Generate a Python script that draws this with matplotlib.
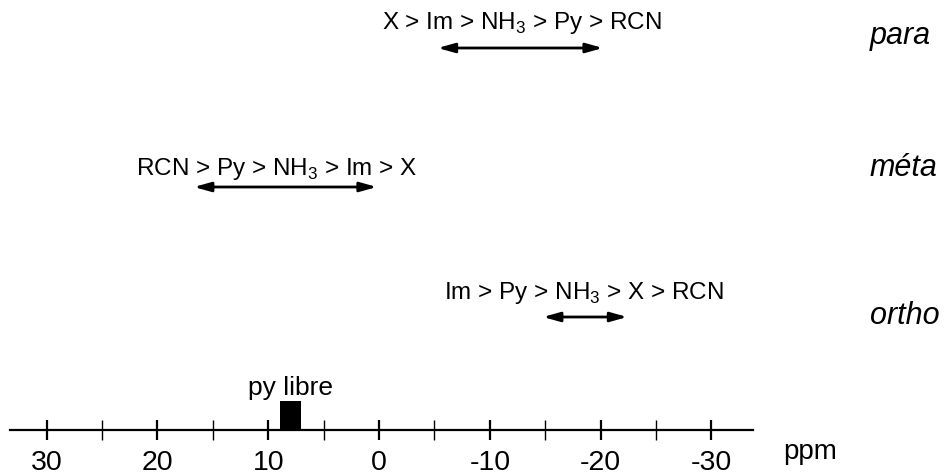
import matplotlib
matplotlib.use('Agg')
import matplotlib.pyplot as plt

plt.rcParams['font.family'] = ['Liberation Sans', 'DejaVu Sans']
plt.rcParams['mathtext.fontset'] = 'custom'
plt.rcParams['mathtext.rm'] = 'Liberation Sans'

# shift range (ppm) of each ring position, with the ligand ordering
positions = ['para', 'méta', 'ortho']
orderings = ['X > Im > NH$_3$ > Py > RCN',
             'RCN > Py > NH$_3$ > Im > X',
             'Im > Py > NH$_3$ > X > RCN']
range_start = [-5.3, 16.7, -14.8]
range_end = [-20.2, 0.2, -22.4]

# free pyridine signal
free_py_label = 'py libre'
free_py_low = 7.0
free_py_high = 8.9

major_ticks = [30, 20, 10, 0, -10, -20, -30]
minor_ticks = [25, 15, 5, -5, -15, -25]

# vertical layout, in pixels from the top of the figure
text_y = [23, 169, 293]
arrow_y = [48, 187, 317]
label_y = [36, 168, 316]
text_x = [-12.9, 9.25, -18.45]
axis_y = 430

fig = plt.figure(figsize=(9.47, 4.74), dpi=100)
ax = fig.add_axes([10 / 947, 0, 743 / 947, 1])
ax.set_xlim(33.3, -33.75)
ax.set_ylim(474, 0)

for side in ['left', 'right', 'top']:
    ax.spines[side].set_visible(False)
ax.spines['bottom'].set_position(('data', axis_y))
ax.spines['bottom'].set_linewidth(1.6)
ax.set_yticks([])
ax.patch.set_visible(False)

ax.set_xticks(major_ticks)
ax.set_xticklabels([str(t) for t in major_ticks])
ax.set_xticks(minor_ticks, minor=True)
ax.tick_params(axis='x', which='both', direction='inout', length=14.4,
               labelsize=20.5, pad=7)
ax.tick_params(axis='x', which='major', width=1.6)
ax.tick_params(axis='x', which='minor', width=1.0)
ax.text(-36.5, 452, 'ppm', ha='left', va='center', fontsize=20)

# free pyridine block sitting on the axis
center = (free_py_low + free_py_high) / 2
ax.bar(center, -(axis_y - 401), width=free_py_high - free_py_low,
       bottom=axis_y, color='black')
ax.text(center, 388, free_py_label, ha='center', va='center', fontsize=19)

for i in range(len(positions)):
    ax.text(text_x[i], text_y[i], orderings[i], ha='center', va='center',
            fontsize=17.5)
    ax.annotate('', xy=(range_end[i], arrow_y[i]),
                xytext=(range_start[i], arrow_y[i]),
                arrowprops=dict(arrowstyle='<|-|>,head_length=1.0,head_width=0.28',
                                color='black', lw=2.0, shrinkA=0, shrinkB=0))
    ax.text(-44.3, label_y[i], positions[i], ha='left', va='center',
            fontsize=22, style='italic')

fig.savefig('out.png', dpi=100)
